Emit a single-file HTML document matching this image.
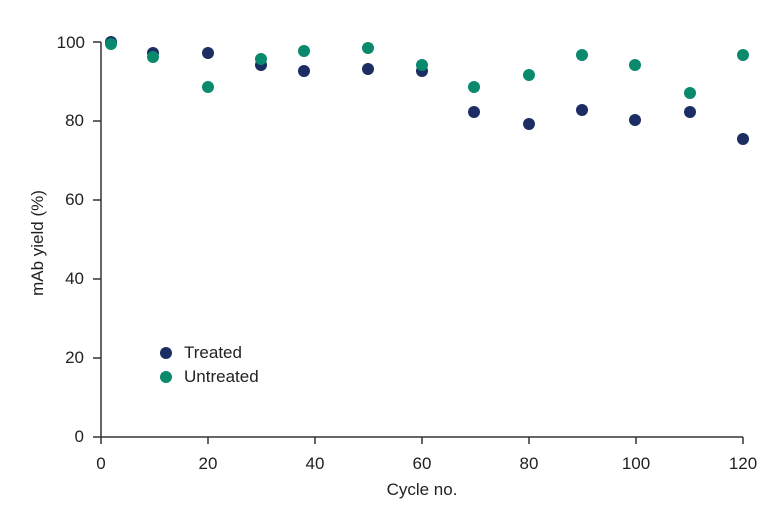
<!DOCTYPE html>
<html><head><style>body{margin:0;background:#fff}svg{display:block}text{font-family:"Liberation Sans",sans-serif;fill:#222}</style></head>
<body>
<svg width="783" height="515" viewBox="0 0 783 515">
<g stroke="#333" stroke-width="1.5" fill="none">
<path d="M101,42V437H743"/>
<path d="M93,437H101M93,358H101M93,279H101M93,200H101M93,121H101M93,42H101"/>
<path d="M101,437V444M208,437V444M315,437V444M422,437V444M529,437V444M636,437V444M743,437V444"/>
</g>
<g font-size="17" text-anchor="end">
<text x="84" y="442">0</text><text x="84" y="363">20</text><text x="84" y="284">40</text><text x="84" y="205">60</text><text x="84" y="126">80</text><text x="85" y="48">100</text>
</g>
<g font-size="17" text-anchor="middle">
<text x="101" y="469">0</text><text x="208" y="469">20</text><text x="315" y="469">40</text><text x="422" y="469">60</text><text x="529" y="469">80</text><text x="636" y="469">100</text><text x="743" y="469">120</text>
<text x="422" y="495">Cycle no.</text>
<text transform="translate(43,243) rotate(-90)">mAb yield (%)</text>
</g>
<g fill="#1b2d63">
<circle cx="111" cy="42" r="6"/><circle cx="153" cy="53" r="6"/><circle cx="208" cy="53" r="6"/><circle cx="261" cy="65" r="6"/><circle cx="304" cy="71" r="6"/><circle cx="368" cy="69" r="6"/><circle cx="422" cy="71" r="6"/><circle cx="474" cy="112" r="6"/><circle cx="529" cy="124" r="6"/><circle cx="582" cy="110" r="6"/><circle cx="635" cy="120" r="6"/><circle cx="690" cy="112" r="6"/><circle cx="743" cy="139" r="6"/>
<circle cx="166" cy="353" r="6"/>
</g>
<g fill="#0a8a6c">
<circle cx="111" cy="44" r="6"/><circle cx="153" cy="57" r="6"/><circle cx="208" cy="87" r="6"/><circle cx="261" cy="59" r="6"/><circle cx="304" cy="51" r="6"/><circle cx="368" cy="48" r="6"/><circle cx="422" cy="65" r="6"/><circle cx="474" cy="87" r="6"/><circle cx="529" cy="75" r="6"/><circle cx="582" cy="55" r="6"/><circle cx="635" cy="65" r="6"/><circle cx="690" cy="93" r="6"/><circle cx="743" cy="55" r="6"/>
<circle cx="166" cy="377" r="6"/>
</g>
<g font-size="17"><text x="184" y="358">Treated</text><text x="184" y="382">Untreated</text></g>
</svg>
</body></html>
